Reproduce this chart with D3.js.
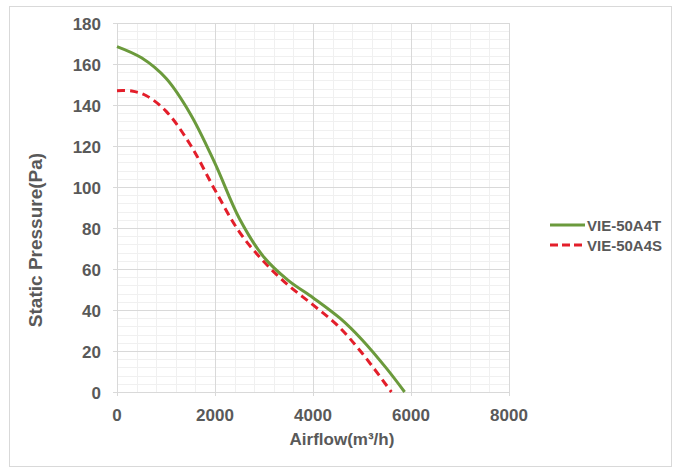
<!DOCTYPE html>
<html><head><meta charset="utf-8">
<script src="https://cdn.jsdelivr.net/npm/d3@7"></script>
<style>body{margin:0;background:#fff}svg{display:block}text{font-family:"Liberation Sans",Arial,sans-serif;font-weight:bold;fill:#595959}</style>
</head><body><svg id="c" width="673" height="468"></svg>
<script>
const seriesNames = ["VIE-50A4T", "VIE-50A4S"];
const airflowT = [0, 500, 1000, 1500, 2000, 2500, 3000, 3500, 4000, 4550, 5000, 5500, 5870];
const pressureT = [168.5, 163, 153, 135.5, 111.5, 84.5, 65.7, 54.3, 46, 36, 25.5, 11.5, 0];
const airflowS = [0, 300, 600, 1000, 1500, 2000, 2500, 3000, 3500, 4000, 4500, 5000, 5600];
const pressureS = [147, 146.8, 144.5, 137, 120.5, 98.5, 78, 63.5, 52, 42.5, 32.5, 19, 0];
const xTicks = [0, 2000, 4000, 6000, 8000];
const yTicks = [0, 20, 40, 60, 80, 100, 120, 140, 160, 180];
const colors = ["#6b9a3c", "#e31e2a"];

const svg = d3.select("#c");
svg.append("rect").attr("x", 9.5).attr("y", 6.5).attr("width", 662).attr("height", 460)
  .attr("fill", "#fff").attr("stroke", "#d9d9d9");

const x = d3.scaleLinear().domain([0, 8000]).range([117, 509]);
const y = d3.scaleLinear().domain([0, 180]).range([392, 23]);

const g = svg.append("g");
const xMinor = d3.range(0, 8001, 400).filter(v => v % 2000 !== 0);
const yMinor = d3.range(0, 181, 4).filter(v => v % 20 !== 0);
g.selectAll(".xm").data(xMinor).join("line")
  .attr("x1", d => Math.round(x(d)) + 0.5).attr("x2", d => Math.round(x(d)) + 0.5)
  .attr("y1", y(180)).attr("y2", y(0)).attr("stroke", "#f0f0f0");
g.selectAll(".ym").data(yMinor).join("line")
  .attr("y1", d => Math.round(y(d)) + 0.5).attr("y2", d => Math.round(y(d)) + 0.5)
  .attr("x1", x(0)).attr("x2", x(8000)).attr("stroke", "#f0f0f0");
g.selectAll(".xg").data(xTicks).join("line")
  .attr("x1", d => Math.round(x(d)) + 0.5).attr("x2", d => Math.round(x(d)) + 0.5)
  .attr("y1", y(180)).attr("y2", y(0) + 4).attr("stroke", "#d9d9d9");
g.selectAll(".yg").data(yTicks).join("line")
  .attr("y1", d => Math.round(y(d)) + 0.5).attr("y2", d => Math.round(y(d)) + 0.5)
  .attr("x1", x(0) - 4).attr("x2", x(8000)).attr("stroke", "#d9d9d9");

g.selectAll(".xl").data(xTicks).join("text")
  .attr("x", d => x(d)).attr("y", 421).attr("text-anchor", "middle")
  .attr("font-size", 17).text(d => d);
g.selectAll(".yl").data(yTicks).join("text")
  .attr("x", 101).attr("y", d => y(d) + 6.5).attr("text-anchor", "end")
  .attr("font-size", 17).text(d => d);

svg.append("text").attr("x", 342).attr("y", 445).attr("text-anchor", "middle")
  .attr("font-size", 17).text("Airflow(m³/h)");
svg.append("text").attr("transform", "translate(42,240) rotate(-90)").attr("text-anchor", "middle")
  .attr("font-size", 19).text("Static Pressure(Pa)");

const line = d3.line().x(d => x(d[0])).y(d => y(d[1])).curve(d3.curveCatmullRom.alpha(0.5));
const dataT = airflowT.map((v, i) => [v, pressureT[i]]);
const dataS = airflowS.map((v, i) => [v, pressureS[i]]);
svg.append("path").attr("d", line(dataS)).attr("fill", "none").attr("stroke", colors[1])
  .attr("stroke-width", 3).attr("stroke-dasharray", "8,5");
svg.append("path").attr("d", line(dataT)).attr("fill", "none").attr("stroke", colors[0])
  .attr("stroke-width", 3);

const lg = svg.append("g");
seriesNames.forEach((n, i) => {
  const yy = 225 + i * 20;
  lg.append("line").attr("x1", 550).attr("x2", 585).attr("y1", yy).attr("y2", yy)
    .attr("stroke", colors[i]).attr("stroke-width", 3)
    .attr("stroke-dasharray", i === 1 ? "8,4" : null);
  lg.append("text").attr("x", 587).attr("y", yy + 6).attr("font-size", 15).text(n);
});
</script></body></html>
